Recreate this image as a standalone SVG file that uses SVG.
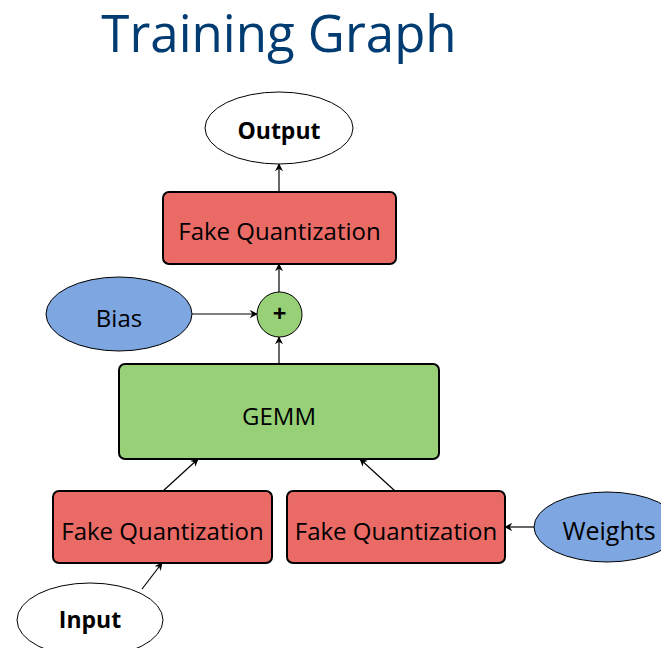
<svg xmlns="http://www.w3.org/2000/svg" width="661" height="648" viewBox="0 0 661 648">
<defs>
<marker id="arr" viewBox="0 0 10 10" refX="9" refY="5" markerWidth="8" markerHeight="8" markerUnits="userSpaceOnUse" orient="auto">
<path d="M0,0 L10,5 L0,10 L3,5 Z" fill="#000"/>
</marker>
</defs>
<style>
.fq{fill:#EA6B66;stroke:#000;stroke-width:2}
.gr{fill:#97D077;stroke:#000;stroke-width:2}
.bl{fill:#7EA6E0;stroke:#000;stroke-width:1}
.wh{fill:#fff;stroke:#000;stroke-width:1}
.t{font-family:"Open Sans","Noto Sans",sans-serif;font-size:24px;fill:#000;text-anchor:middle}
.b{font-weight:bold;font-size:23px}
.c{fill:none;stroke:#000;stroke-width:1.2;marker-end:url(#arr)}
</style>
<rect width="661" height="648" fill="#fff"/>
<text x="279" y="52" font-family="'Open Sans','Noto Sans',sans-serif" font-size="51" fill="#003C71" text-anchor="middle">Training Graph</text>
<g id="connectors">
<line class="c" x1="279" y1="192" x2="279" y2="164"/>
<line class="c" x1="279" y1="292" x2="279" y2="264"/>
<line class="c" x1="279" y1="364" x2="279" y2="337"/>
<line class="c" x1="192" y1="314" x2="257" y2="314"/>
<line class="c" x1="163" y1="491" x2="198" y2="459"/>
<line class="c" x1="395" y1="491" x2="360" y2="459"/>
<line class="c" x1="534" y1="527" x2="505" y2="527"/>
<line class="c" x1="142" y1="589" x2="162" y2="563"/>
</g>
<g id="output"><ellipse class="wh" cx="279" cy="128" rx="74" ry="36"/><text class="t b" x="279" y="139">Output</text></g>
<g id="fq-top"><rect class="fq" x="163" y="192" width="233" height="72" rx="6"/><text class="t" x="279.5" y="240">Fake Quantization</text></g>
<g id="plus"><circle class="gr" style="stroke-width:1" cx="279.5" cy="314.5" r="22.5"/><text class="t" x="279.5" y="322" font-weight="bold" font-size="20">+</text></g>
<g id="bias"><ellipse class="bl" cx="119" cy="314" rx="73" ry="37"/><text class="t" x="119" y="327">Bias</text></g>
<g id="gemm"><rect class="gr" x="119" y="364" width="320" height="95" rx="6"/><text class="t" x="279" y="425">GEMM</text></g>
<g id="fq-left"><rect class="fq" x="53" y="491" width="219" height="72" rx="6"/><text class="t" x="162.5" y="540">Fake Quantization</text></g>
<g id="fq-right"><rect class="fq" x="287" y="491" width="218" height="72" rx="6"/><text class="t" x="396" y="540">Fake Quantization</text></g>
<g id="weights"><ellipse class="bl" cx="607" cy="527" rx="73" ry="35"/><text class="t" x="609" y="540" style="font-size:25px">Weights</text></g>
<g id="input"><ellipse class="wh" cx="90" cy="620" rx="73" ry="37"/><text class="t b" x="90" y="628">Input</text></g>
</svg>
